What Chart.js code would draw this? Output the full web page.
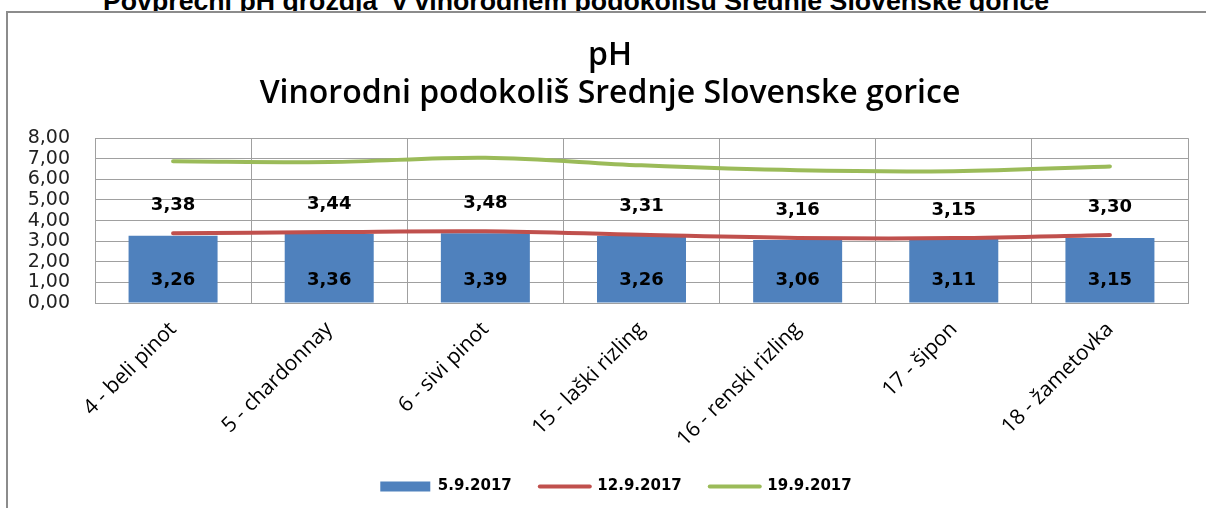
<!DOCTYPE html>
<html>
<head>
<meta charset="utf-8">
<script src="https://cdn.jsdelivr.net/npm/chart.js@4.4.1/dist/chart.umd.min.js"></script>
<style>
  html, body { margin: 0; padding: 0; background: #fff; width: 1206px; height: 508px; overflow: hidden; }
  #heading { position: absolute; left: 103px; top: -14px; font: bold 26.7px "Liberation Sans", Arial, sans-serif; line-height: 30px; white-space: pre; color: #000; z-index: 0; }
  #frame { position: absolute; left: 6px; top: 11px; width: 1220px; height: 520px; border-top: 2px solid #8c8c8c; border-left: 2px solid #8c8c8c; background: #fff; z-index: 1; }
  #wrap { position: absolute; left: 0; top: 0; width: 1206px; height: 508px; z-index: 2; }
</style>
</head>
<body>
<div id="heading">Povprečni pH grozdja  v vinorodnem podokolišu Srednje Slovenske gorice</div>
<div id="frame"></div>
<div id="wrap"><canvas id="chart"></canvas></div>
<script>
var categories = ['4 - beli pinot', '5 - chardonnay', '6 - sivi pinot', '15 - laški rizling', '16 - renski rizling', '17 - šipon', '18 - žametovka'];
var ph0509 = [3.26, 3.36, 3.39, 3.26, 3.06, 3.11, 3.15];
var ph1209 = [3.38, 3.44, 3.48, 3.31, 3.16, 3.15, 3.30];
var ph1909 = [6.88, 6.84, 7.05, 6.68, 6.44, 6.40, 6.63];
var yTicks = [0, 1, 2, 3, 4, 5, 6, 7, 8];
var seriesNames = ['5.9.2017', '12.9.2017', '19.9.2017'];
var colors = ['#4f81bd', '#c0504d', '#9bbb59'];

function fmt(v) {
    return v.toFixed(2).replace('.', ',');
}

// Excel style data labels: bars at the base, red line above the point
var valueLabels = {
    id: 'valueLabels',
    afterDatasetsDraw: function (chart) {
        var ctx = chart.ctx;
        var yScale = chart.scales.y;
        ctx.save();
        ctx.font = 'bold 18px "DejaVu Sans"';
        ctx.fillStyle = '#000';
        ctx.textAlign = 'center';
        ctx.textBaseline = 'middle';
        chart.getDatasetMeta(0).data.forEach(function (bar, i) {
            ctx.fillText(fmt(ph0509[i]), bar.x, yScale.bottom - 23);
        });
        chart.getDatasetMeta(1).data.forEach(function (pt, i) {
            ctx.fillText(fmt(ph1209[i]), pt.x, pt.y - 28);
        });
        ctx.restore();
    }
};

// title and legend sit a bit right of the page centre in the original
var centreShift = {
    id: 'centreShift',
    afterLayout: function (chart) {
        chart.titleBlock.left += 14;
        chart.legend.left += 26;
    }
};

window.onload = function () {
    const ctx = document.getElementById('chart');

    new Chart(ctx, {
        type: 'bar',
        data: {
            labels: categories,
            datasets: [{
                label: seriesNames[0],
                data: ph0509,
                backgroundColor: colors[0],
                barPercentage: 0.57,
                categoryPercentage: 1,
                order: 2
            },
            {
                label: seriesNames[1],
                data: ph1209,
                type: 'line',
                borderColor: colors[1],
                backgroundColor: colors[1],
                borderWidth: 4,
                borderCapStyle: 'round',
                pointRadius: 0,
                tension: 0.35,
                order: 1
            },
            {
                label: seriesNames[2],
                data: ph1909,
                type: 'line',
                borderColor: colors[2],
                backgroundColor: colors[2],
                borderWidth: 4,
                borderCapStyle: 'round',
                pointRadius: 0,
                tension: 0.35,
                order: 1
            }]
        },
        plugins: [valueLabels, centreShift],
        options: {
            responsive: true,
            maintainAspectRatio: false,
            animation: false,
            layout: {
                padding: { left: 18, right: 18, top: 14, bottom: 4 }
            },
            plugins: {
                title: {
                    display: true,
                    text: ['pH', 'Vinorodni podokoliš Srednje Slovenske gorice'],
                    color: '#000',
                    font: { family: 'Open Sans', size: 32, weight: '600', lineHeight: 1.19 },
                    padding: { top: 23, bottom: 25 }
                },
                legend: {
                    position: 'bottom',
                    labels: {
                        usePointStyle: true,
                        pointStyleWidth: 50,
                        boxHeight: 10,
                        padding: 28,
                        color: '#000',
                        font: { family: 'DejaVu Sans', size: 15, weight: 'bold' },
                        generateLabels: function (chart) {
                            return chart.data.datasets.map(function (ds, i) {
                                var isBar = i === 0;
                                return {
                                    text: ds.label,
                                    datasetIndex: i,
                                    fillStyle: colors[i],
                                    strokeStyle: colors[i],
                                    fontColor: '#000',
                                    lineWidth: isBar ? 0 : 4,
                                    lineCap: 'round',
                                    pointStyle: isBar ? 'rect' : 'line',
                                    hidden: false
                                };
                            });
                        }
                    }
                },
                tooltip: { enabled: false }
            },
            scales: {
                x: {
                    grid: { color: '#a0a0a0', drawTicks: false },
                    border: { color: '#a0a0a0' },
                    ticks: {
                        color: '#000',
                        font: { family: 'Open Sans', size: 21 },
                        minRotation: 45,
                        maxRotation: 45,
                        autoSkip: false,
                        padding: 14
                    },
                    afterFit: function (scale) {
                        scale.height = 148;
                    }
                },
                y: {
                    min: 0,
                    max: 8,
                    grid: { color: '#a0a0a0', drawTicks: false },
                    border: { color: '#a0a0a0' },
                    afterBuildTicks: function (scale) {
                        scale.ticks = yTicks.map(function (v) { return { value: v }; });
                    },
                    afterFit: function (scale) {
                        scale.width = 77;
                    },
                    ticks: {
                        color: '#222',
                        font: { family: 'DejaVu Sans', size: 19 },
                        autoSkip: false,
                        padding: 25,
                        callback: function (v) { return fmt(v); }
                    }
                }
            }
        }
    });
}
</script>
</body>
</html>
